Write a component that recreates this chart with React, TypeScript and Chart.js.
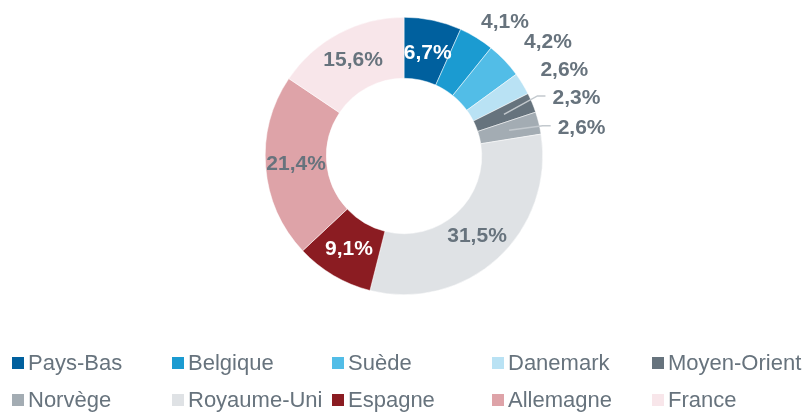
import React, { useEffect, useRef } from "react";
import { Chart, registerables } from "chart.js";

Chart.register(...registerables);

const categories = [
  "Pays-Bas",
  "Belgique",
  "Suède",
  "Danemark",
  "Moyen-Orient",
  "Norvège",
  "Royaume-Uni",
  "Espagne",
  "Allemagne",
  "France",
];
const values = [6.7, 4.1, 4.2, 2.6, 2.3, 2.6, 31.5, 9.1, 21.4, 15.6];
const valueLabels = ["6,7%", "4,1%", "4,2%", "2,6%", "2,3%", "2,6%", "31,5%", "9,1%", "21,4%", "15,6%"];
const colors = [
  "#00609e",
  "#1b9bd1",
  "#52bde7",
  "#b9e2f4",
  "#66737d",
  "#a3acb3",
  "#dfe2e5",
  "#8b1c22",
  "#dea3a8",
  "#f8e6ea",
];

const GRAY = "#67737d";
const LABEL_FONT = 'bold 21px "Liberation Sans", Arial, sans-serif';

// label placement rules (inside / outside)
const insideWhite = new Set([0, 7]);
const outsideRule: Record<number, { extra: number; dAngle: number; leader?: boolean }> = {
  1: { extra: 29, dAngle: 5.5 },
  2: { extra: 45, dAngle: 5.2 },
  3: { extra: 43, dAngle: 3.3 },
  4: { extra: 43, dAngle: 4.1, leader: true },
  5: { extra: 41, dAngle: 4.9, leader: true },
};
const insideNudge: Record<number, { dAngle: number; dR: number }> = { 0: { dAngle: 1, dR: -3 } };

const labelPlugin = {
  id: "sliceLabels",
  afterDatasetsDraw(chart: any) {
    const ctx = chart.ctx;
    const meta = chart.getDatasetMeta(0);
    ctx.save();
    ctx.font = LABEL_FONT;
    ctx.textBaseline = "middle";
    ctx.textAlign = "center";
    meta.data.forEach((arc: any, i: number) => {
      const { x, y, startAngle, endAngle, innerRadius, outerRadius } = arc.getProps(
        ["x", "y", "startAngle", "endAngle", "innerRadius", "outerRadius"],
        true
      );
      const mid = (startAngle + endAngle) / 2;
      const text = valueLabels[i];
      const rule = outsideRule[i];
      if (rule) {
        const a = mid + (rule.dAngle * Math.PI) / 180;
        const r = outerRadius + rule.extra;
        const lx = x + Math.cos(a) * r;
        const ly = y + Math.sin(a) * r;
        if (rule.leader) {
          const w = ctx.measureText(text).width;
          const rm = (innerRadius + outerRadius) / 2;
          const sx = x + Math.cos(mid) * rm;
          const sy = y + Math.sin(mid) * rm;
          const ex = lx - w / 2 - 7;
          const ey = ly - 2.5;
          ctx.strokeStyle = "#c3c9ce";
          ctx.lineWidth = 1.5;
          ctx.beginPath();
          ctx.moveTo(sx, sy);
          ctx.lineTo(ex - 8, ey);
          ctx.lineTo(ex, ey);
          ctx.stroke();
        }
        ctx.fillStyle = GRAY;
        ctx.fillText(text, lx, ly);
      } else {
        const n = insideNudge[i] || { dAngle: 0, dR: 0 };
        const a = mid + (n.dAngle * Math.PI) / 180;
        const r = (innerRadius + outerRadius) / 2 + n.dR;
        ctx.fillStyle = insideWhite.has(i) ? "#ffffff" : GRAY;
        ctx.fillText(text, x + Math.cos(a) * r, y + Math.sin(a) * r);
      }
    });
    ctx.restore();
  },
};

function Legend() {
  const colX = [12, 172, 332, 492, 652];
  const rowY = [363, 400];
  return (
    <>
      {categories.map((c, i) => {
        const col = i % 5;
        const row = Math.floor(i / 5);
        return (
          <div
            key={c}
            style={{
              position: "absolute",
              left: colX[col],
              top: rowY[row] - 14,
              height: 28,
              display: "flex",
              alignItems: "center",
              whiteSpace: "nowrap",
              font: '22px "Liberation Sans", Arial, sans-serif',
              color: GRAY,
            }}
          >
            <span
              style={{
                display: "inline-block",
                width: 12,
                height: 12,
                background: colors[i],
                marginRight: 4,
              }}
            />
            {c}
          </div>
        );
      })}
    </>
  );
}

export default function App() {
  const ref = useRef<HTMLCanvasElement | null>(null);
  useEffect(() => {
    if (!ref.current) return;
    const chart = new Chart(ref.current, {
      type: "doughnut",
      data: {
        labels: categories,
        datasets: [
          {
            data: values,
            backgroundColor: colors,
            borderColor: "#ffffff",
            borderWidth: 0.5,
          },
        ],
      },
      options: {
        responsive: true,
        maintainAspectRatio: false,
        animation: false,
        cutout: "56%",
        layout: { padding: { top: 17, bottom: 117, left: 0, right: 0 } },
        plugins: {
          legend: { display: false },
          tooltip: { enabled: false },
        },
      },
      plugins: [labelPlugin],
    });
    return () => chart.destroy();
  }, []);
  return (
    <div style={{ position: "absolute", left: 0, top: 0, width: 808, height: 412, background: "#fff" }}>
      <div style={{ position: "absolute", left: 0, top: 0, width: 808, height: 412 }}>
        <canvas ref={ref} />
      </div>
      <Legend />
    </div>
  );
}
